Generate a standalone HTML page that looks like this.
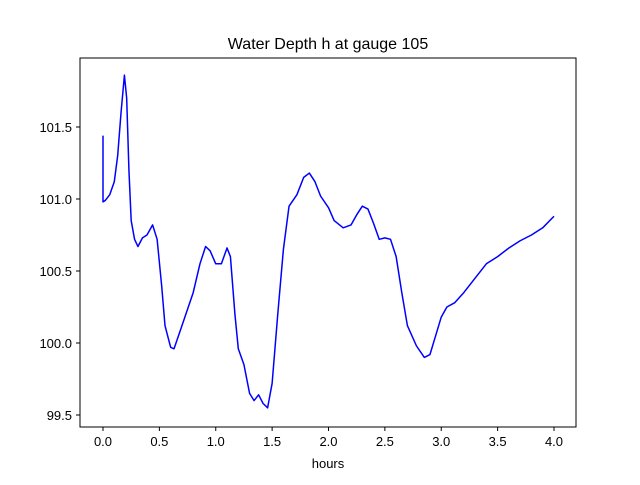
<!DOCTYPE html>
<html><head><meta charset="utf-8"><style>
body{margin:0;background:#fff;}
svg{font-family:"Liberation Sans","DejaVu Sans",sans-serif;}
</style></head><body>
<svg id="chart" width="640" height="480">
<rect x="0" y="0" width="640" height="480" fill="#fff"/>
<text x="328" y="49" font-size="16" text-anchor="middle">Water Depth h at gauge 105</text>
<g id="xticks"></g>
<g id="yticks"></g>
<path id="line" fill="none" stroke="#0000ff" stroke-width="1.5" stroke-linejoin="round"/>
<rect x="80" y="58" width="496" height="369" fill="none" stroke="#000" stroke-width="1"/>
<text x="328" y="468" font-size="13" text-anchor="middle">hours</text>
</svg>
<script>
const hours=[0,0,0.02,0.06,0.1,0.13,0.16,0.19,0.21,0.23,0.25,0.28,0.31,0.35,0.39,0.44,0.48,0.52,0.55,0.6,0.63,0.7,0.8,0.86,0.91,0.95,1.0,1.05,1.1,1.13,1.17,1.2,1.25,1.3,1.34,1.38,1.42,1.46,1.5,1.55,1.6,1.65,1.72,1.78,1.83,1.88,1.93,2.0,2.05,2.13,2.2,2.25,2.3,2.35,2.4,2.45,2.5,2.55,2.6,2.65,2.7,2.78,2.85,2.9,2.95,3.0,3.05,3.12,3.2,3.3,3.4,3.5,3.6,3.7,3.8,3.9,4.0];
const depth=[101.44,100.98,100.99,101.03,101.12,101.3,101.6,101.86,101.7,101.2,100.85,100.72,100.67,100.73,100.75,100.82,100.72,100.4,100.12,99.97,99.96,100.12,100.35,100.55,100.67,100.64,100.55,100.55,100.66,100.6,100.2,99.96,99.85,99.65,99.6,99.64,99.58,99.55,99.72,100.2,100.65,100.95,101.03,101.15,101.18,101.12,101.02,100.94,100.85,100.8,100.82,100.89,100.95,100.93,100.83,100.72,100.73,100.72,100.6,100.35,100.12,99.98,99.9,99.92,100.05,100.18,100.25,100.28,100.35,100.45,100.55,100.6,100.66,100.71,100.75,100.8,100.88];
const xTicks=["0.0","0.5","1.0","1.5","2.0","2.5","3.0","3.5","4.0"];
const yTicks=["99.5","100.0","100.5","101.0","101.5"];
const X=v=>103+v*112.75;
const Y=v=>415-(v-99.5)*144;
const NS="http://www.w3.org/2000/svg";
let d="";
hours.forEach((h,i)=>{d+=(i?"L":"M")+X(h).toFixed(2)+","+Y(depth[i]).toFixed(2);});
document.getElementById("line").setAttribute("d",d);
const gx=document.getElementById("xticks");
xTicks.forEach(t=>{
 const x=X(parseFloat(t));
 const l=document.createElementNS(NS,"line");
 l.setAttribute("x1",x);l.setAttribute("x2",x);l.setAttribute("y1",427);l.setAttribute("y2",431);l.setAttribute("stroke","#000");
 
 
 gx.appendChild(l);
 const tx=document.createElementNS(NS,"text");
 tx.setAttribute("x",x);tx.setAttribute("y",446);tx.setAttribute("font-size","13");tx.setAttribute("text-anchor","middle");
 tx.textContent=t;
 
 
 gx.appendChild(tx);
});
const gy=document.getElementById("yticks");
yTicks.forEach(t=>{
 const y=Y(parseFloat(t));
 const l=document.createElementNS(NS,"line");
 l.setAttribute("x1",76);l.setAttribute("x2",80);l.setAttribute("y1",y);l.setAttribute("y2",y);l.setAttribute("stroke","#000");
 
 
 gy.appendChild(l);
 const tx=document.createElementNS(NS,"text");
 tx.setAttribute("x",72);tx.setAttribute("y",y+5);tx.setAttribute("font-size","13");tx.setAttribute("text-anchor","end");
 tx.textContent=t;
 
 
 gy.appendChild(tx);
});
</script>
</body></html>
